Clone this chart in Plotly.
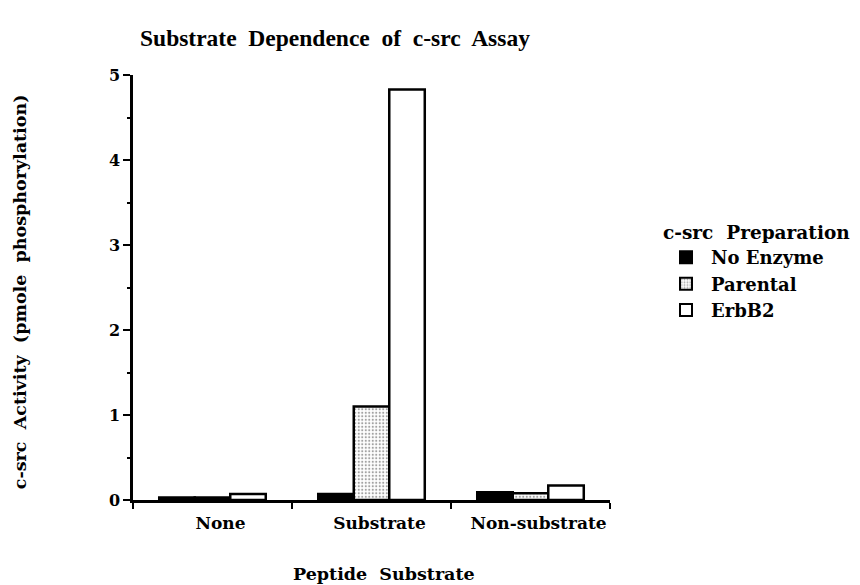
import plotly.graph_objects as go

categories = ["None", "Substrate", "Non-substrate"]
no_enzyme = [0.03, 0.07, 0.09]
parental = [0.03, 1.1, 0.08]
erbb2 = [0.07, 4.83, 0.17]
y_ticks = [0, 1, 2, 3, 4, 5]

serif = "DejaVu Serif, Liberation Serif, serif"

fig = go.Figure()
fig.add_trace(go.Bar(x=categories, y=no_enzyme, name="<b>No Enzyme</b>",
                     marker=dict(color="black", line=dict(color="black", width=2.5))))
fig.add_trace(go.Bar(x=categories, y=parental, name="<b>Parental</b>",
                     marker=dict(color="white", line=dict(color="black", width=2.5),
                                 pattern=dict(shape=".", fgcolor="#444", bgcolor="white",
                                              size=3.5, solidity=0.3))))
fig.add_trace(go.Bar(x=categories, y=erbb2, name="<b>ErbB2</b>",
                     marker=dict(color="white", line=dict(color="black", width=2.5))))

# the page has an 8px body margin, so everything is placed 8px up/left
fig.update_layout(
    width=860, height=585,
    plot_bgcolor="white", paper_bgcolor="white",
    margin=dict(l=125, r=258, t=67, b=93, autoexpand=False),
    barmode="group", bargap=0.33, bargroupgap=0,
    font=dict(family=serif, color="black", size=17),
    title=dict(text="<b>Substrate  Dependence  of  c-src  Assay</b>",
               x=132 / 860, xanchor="left", y=1 - 30 / 585, yanchor="middle",
               font=dict(size=23.5, family="Liberation Serif, serif")),
    legend=dict(title=dict(text="<b>c-src  Preparation</b>", font=dict(size=18.5)),
                xref="container", yref="container",
                x=653 / 860, xanchor="left", y=1 - 207 / 585, yanchor="top",
                font=dict(size=18), itemsizing="constant", itemwidth=40,
                tracegroupgap=0),
    annotations=[
        dict(text="<b>Peptide  Substrate</b>", xref="paper", yref="paper",
             x=0.526, y=-74 / 425, xanchor="center", yanchor="middle",
             showarrow=False, font=dict(size=17.5)),
        dict(text="<b>c-src  Activity  (pmole  phosphorylation)</b>", xref="paper",
             yref="paper", x=-113 / 477, y=0.489, xanchor="center", yanchor="middle",
             textangle=-90, showarrow=False, font=dict(size=17.5)),
    ],
)
fig.update_xaxes(
    showline=True, linecolor="black", linewidth=2.5, automargin=False,
    ticks="outside", tickson="boundaries", ticklen=6, tickwidth=2, tickcolor="black",
    tickfont=dict(size=17), ticklabelstandoff=6, ticklabelshift=8,
    tickvals=categories, ticktext=["<b>%s</b>" % c for c in categories],
)
fig.update_yaxes(
    range=[0, 5], showline=True, linecolor="black", linewidth=2.5, automargin=False,
    showgrid=False, zeroline=False,
    tickvals=y_ticks, ticktext=["<b>%d</b>" % v for v in y_ticks],
    ticks="outside", ticklen=7, tickwidth=2, tickcolor="black", tickfont=dict(size=16),
    minor=dict(dtick=0.5, ticks="outside", ticklen=3, tickwidth=2, tickcolor="black"),
)

fig.write_html("out.html")
